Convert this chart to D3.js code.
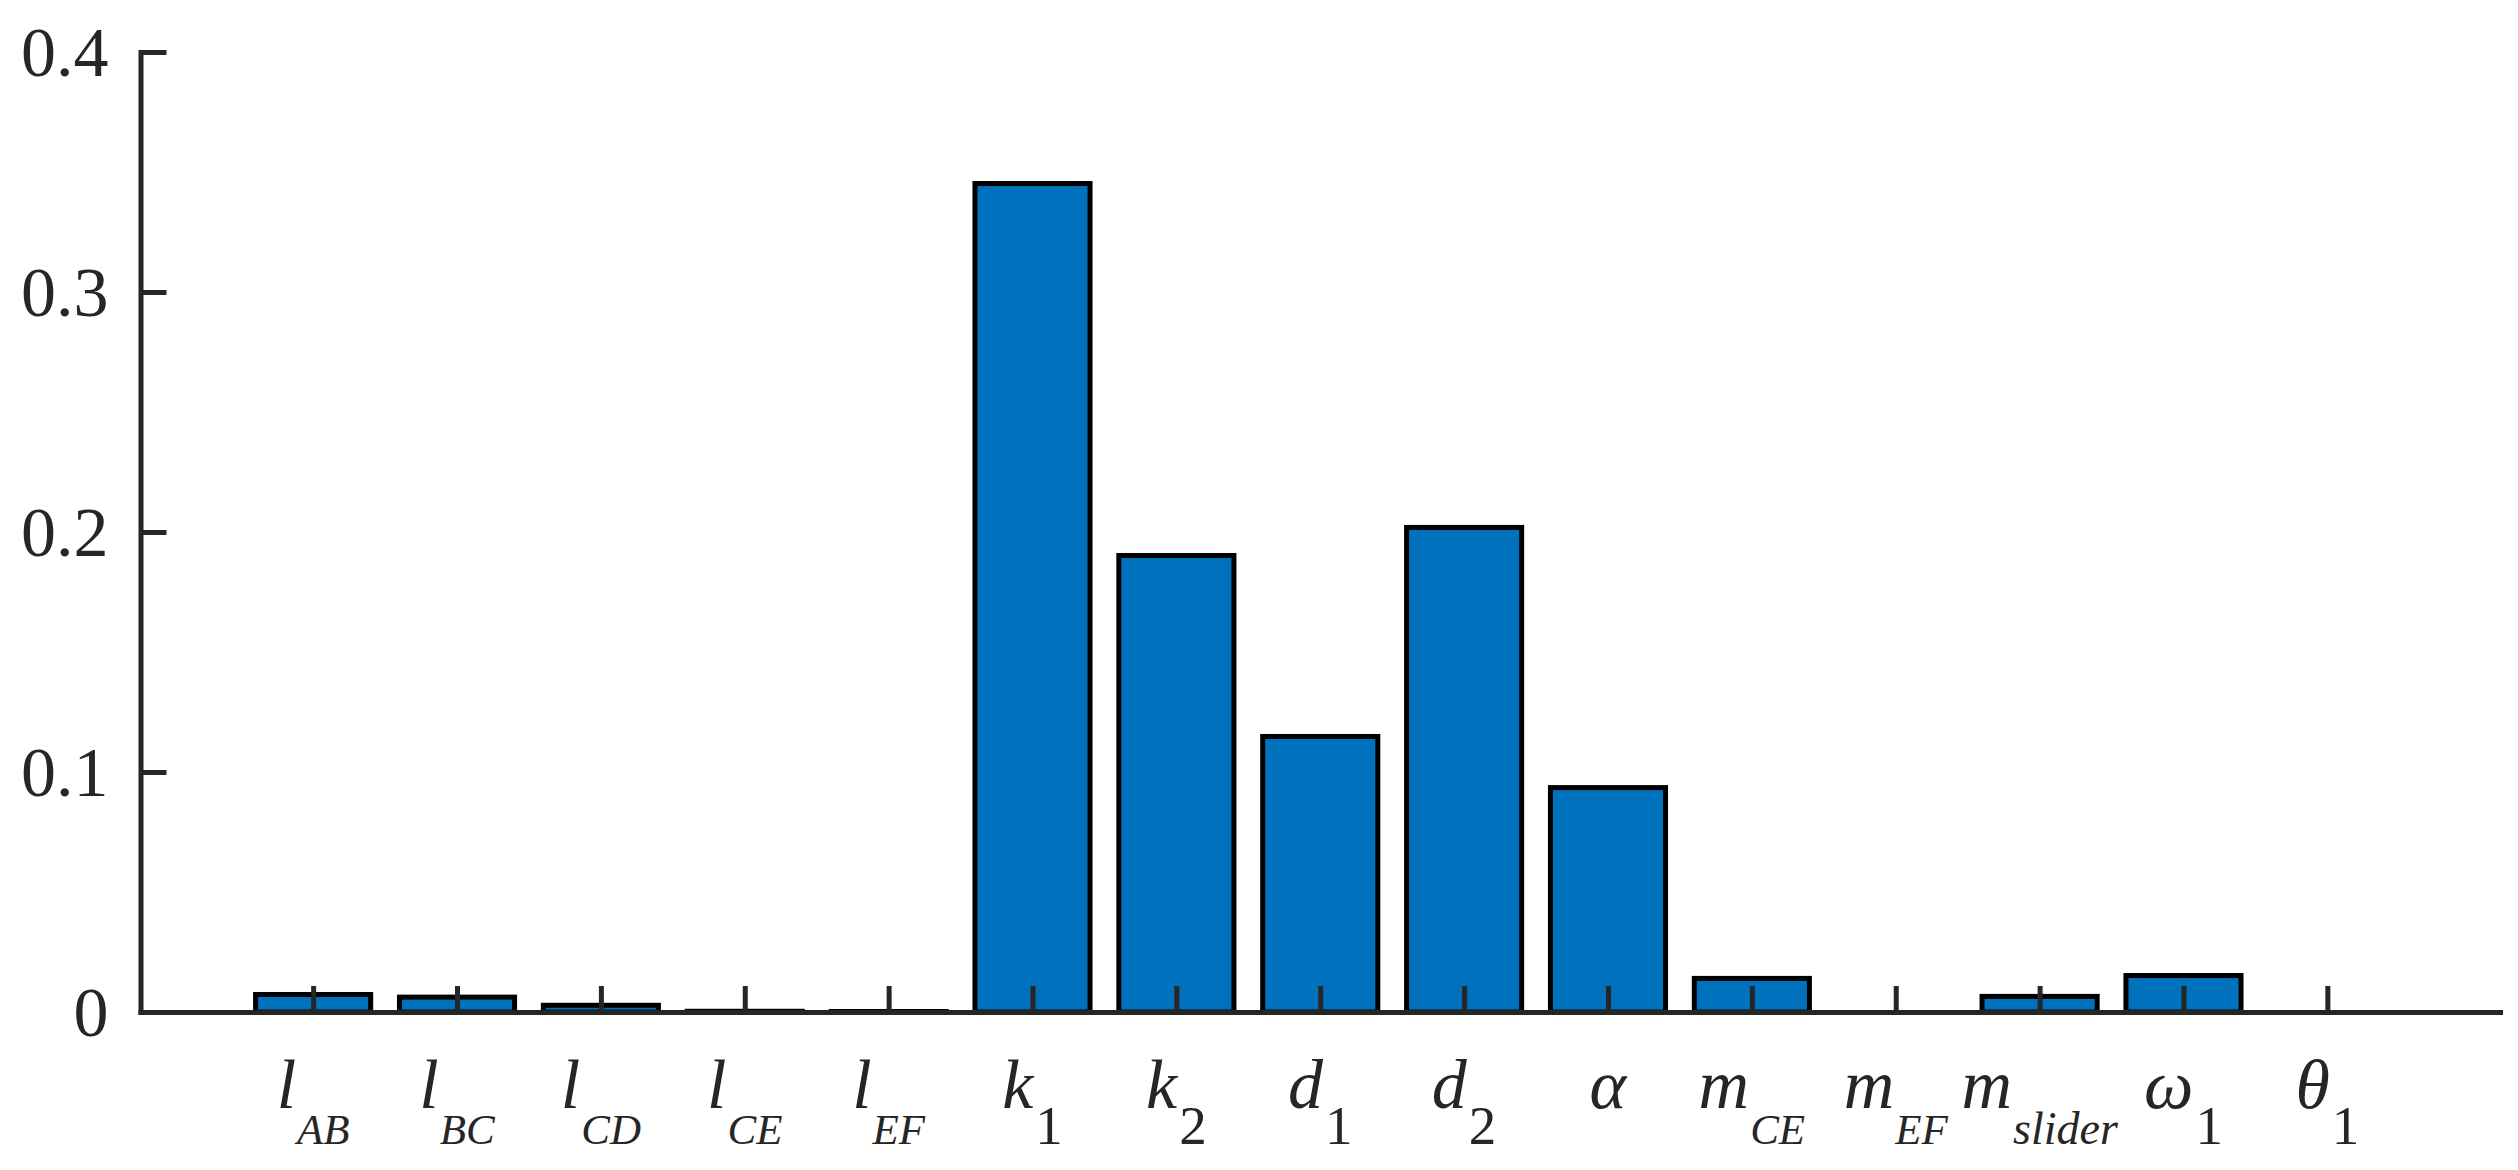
<!DOCTYPE html>
<html>
<head>
<meta charset="utf-8">
<script src="https://cdn.jsdelivr.net/npm/d3@7"></script>
<style>
  html, body { margin: 0; padding: 0; background: #ffffff; }
  svg { display: block; }
</style>
</head>
<body>
<svg id="chart" width="2518" height="1170"></svg>
<script>
// ---- data ----
const categories = ["l_{AB}", "l_{BC}", "l_{CD}", "l_{CE}", "l_{EF}", "k_{1}", "k_{2}", "d_{1}", "d_{2}", "α", "m_{CE}", "m_{EF}", "m_{slider}", "ω_{1}", "θ_{1}"];
const values = [0.0073, 0.0062, 0.0028, 0.0003, 0.0002, 0.3452, 0.1902, 0.1148, 0.2019, 0.0935, 0.0140, 0, 0.0065, 0.0152, 0];
const yTicks = [0, 0.1, 0.2, 0.3, 0.4];
const yTickLabels = ["0", "0.1", "0.2", "0.3", "0.4"];

(function () {
  // ---- layout ----
  const svg = d3.select("#chart");
  const W = 2518, H = 1170;
  const mLeft = 140.5, mRight = 2500, mTop = 52, mBottom = 1012;
  const axisColor = "#262626";
  const barColor = "#0072BD";
  const font = "'Liberation Serif', 'Times New Roman', serif";

  svg.append("rect").attr("width", W).attr("height", H).attr("fill", "#fff");

  const idx = categories.map((d, i) => i + 1);
  const x = d3.scaleLinear().domain([-0.2, 16.2]).range([mLeft, mRight]);
  const y = d3.scaleLinear().domain([0, 0.4]).range([mBottom, mTop]);
  const barW = 0.8;

  // bars
  svg.append("g").selectAll("rect")
    .data(values)
    .join("rect")
    .attr("x", (d, i) => x(idx[i] - barW / 2))
    .attr("width", (d, i) => x(idx[i] + barW / 2) - x(idx[i] - barW / 2))
    .attr("y", d => y(d))
    .attr("height", d => y(0) - y(d))
    .attr("fill", barColor)
    .attr("stroke", "#000")
    .attr("stroke-width", 5);

  // y axis
  const yAxis = d3.axisLeft(y)
    .tickValues(yTicks)
    .tickFormat((d, i) => yTickLabels[i])
    .tickSizeInner(-26)
    .tickSizeOuter(0)
    .tickPadding(32);
  const gy = svg.append("g").attr("transform", `translate(${mLeft},0)`).call(yAxis);
  gy.select(".domain").attr("stroke", axisColor).attr("stroke-width", 5).attr("stroke-linecap", "square");
  gy.selectAll(".tick line").attr("stroke", axisColor).attr("stroke-width", 5);
  gy.selectAll(".tick text")
    .attr("fill", axisColor)
    .attr("font-family", font)
    .attr("font-size", 70)
    .attr("dy", "0.34em");

  // x axis
  const xAxis = d3.axisBottom(x)
    .tickValues(idx)
    .tickFormat("")
    .tickSizeInner(-26)
    .tickSizeOuter(0);
  const gx = svg.append("g").attr("transform", `translate(0,${mBottom})`).call(xAxis);
  gx.select(".domain").attr("stroke", axisColor).attr("stroke-width", 5).attr("stroke-linecap", "square");
  gx.selectAll(".tick line").attr("stroke", axisColor).attr("stroke-width", 5);
  gx.selectAll(".tick text").remove();

  // x tick labels with TeX-like subscripts
  const labels = svg.append("g")
    .attr("font-family", font)
    .attr("fill", axisColor);

  categories.forEach((c, i) => {
    const parts = c.split("_");
    const main = parts[0];
    const sub = parts[1] ? parts[1].replace(/[{}]/g, "") : null;
    const t = labels.append("text")
      .attr("x", x(idx[i]))
      .attr("y", 1108)
      .attr("text-anchor", "middle");
    t.append("tspan")
      .attr("font-size", 70)
      .attr("font-style", "italic")
      .text(main);
    if (sub) {
      const numeric = /^[0-9]+$/.test(sub);
      t.append("tspan")
        .attr("dy", 36)
        .attr("dx", numeric ? 2 : 1)
        .attr("font-size", numeric ? 55 : (sub === sub.toLowerCase() ? 46 : 43))
        .attr("font-style", numeric ? "normal" : "italic")
        .text(sub);
    }
  });
})();
</script>
</body>
</html>
